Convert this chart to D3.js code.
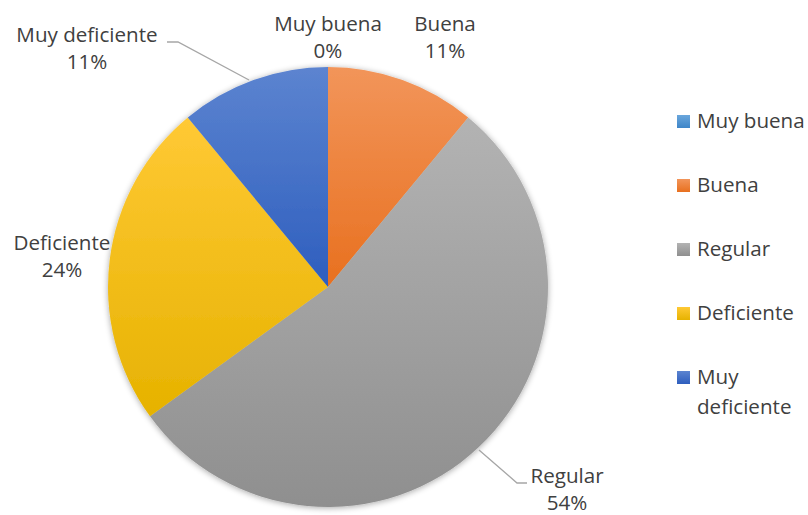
<!DOCTYPE html>
<html><head><meta charset="utf-8">
<script src="https://cdn.jsdelivr.net/npm/d3@7"></script>
<style>body{margin:0;background:#fff}svg{display:block}text{font-family:"Open Sans",sans-serif;fill:#404040}</style>
</head><body>
<svg id="c" width="808" height="515"></svg>
<script>
const categories = ["Muy buena","Buena","Regular","Deficiente","Muy deficiente"];
const values = [0, 11, 54, 24, 11];
const labels = ["0%","11%","54%","24%","11%"];
const legendLines = [["Muy buena"],["Buena"],["Regular"],["Deficiente"],["Muy","deficiente"]];
const colorsTop = ["#6AA6DC","#F2955A","#B3B3B3","#FFC935","#5C84D0"];
const colorsBottom = ["#3E86C8","#E8701F","#8F8F8F","#E6B200","#2E5EBE"];

const svg = d3.select("#c");
const cx = 328, cy = 287, R = 220;
const FS = 20.6;
const defs = svg.append("defs");
categories.forEach((c,i)=>{
  const g = defs.append("linearGradient").attr("id","g"+i).attr("x1",0).attr("y1",0).attr("x2",0).attr("y2",1);
  g.append("stop").attr("offset","0%").attr("stop-color",colorsTop[i]);
  g.append("stop").attr("offset","100%").attr("stop-color",colorsBottom[i]);
});
const f = defs.append("filter").attr("id","sh").attr("x","-10%").attr("y","-10%").attr("width","120%").attr("height","120%");
f.append("feGaussianBlur").attr("in","SourceAlpha").attr("stdDeviation",3).attr("result","b");
f.append("feOffset").attr("in","b").attr("dx",0).attr("dy",1).attr("result","o");
f.append("feComponentTransfer").attr("in","o").attr("result","o2").append("feFuncA").attr("type","linear").attr("slope",0.35);
const m = f.append("feMerge"); m.append("feMergeNode").attr("in","o2"); m.append("feMergeNode").attr("in","SourceGraphic");

const pie = d3.pie().sort(null).value(d=>d)(values);
const arc = d3.arc().innerRadius(0).outerRadius(R);
const g = svg.append("g").attr("transform",`translate(${cx},${cy})`).attr("filter","url(#sh)");
g.selectAll("path").data(pie).join("path").attr("d",arc).attr("fill",(d,i)=>"url(#g"+i+")");

// leader lines
svg.append("path").attr("d",d3.line()([[249,80],[178,42],[167,42]])).attr("fill","none").attr("stroke","#A6A6A6").attr("stroke-width",1.3);
svg.append("path").attr("d",d3.line()([[479,450],[517,483],[527,483]])).attr("fill","none").attr("stroke","#A6A6A6").attr("stroke-width",1.3);

// data labels
const labelPos = [[328,24],[445,24],[567,476],[62,243],[87,35]];
categories.forEach((c,i)=>{
  const t = svg.append("text").attr("text-anchor","middle").attr("font-size",FS);
  t.append("tspan").attr("x",labelPos[i][0]).attr("y",labelPos[i][1]).attr("dy","0.35em").text(c);
  t.append("tspan").attr("x",labelPos[i][0]).attr("y",labelPos[i][1]+27).attr("dy","0.35em").text(labels[i]);
});

// legend
const ly = d3.scalePoint().domain(categories).range([121,377]);
categories.forEach((c,i)=>{
  const y = ly(c);
  svg.append("rect").attr("x",677).attr("y",y-6).attr("width",13).attr("height",13).attr("fill","url(#g"+i+")");
  const t = svg.append("text").attr("font-size",FS);
  legendLines[i].forEach((l,j)=>t.append("tspan").attr("x",697).attr("y",y+j*30).attr("dy","0.35em").text(l));
});
</script>
</body></html>
